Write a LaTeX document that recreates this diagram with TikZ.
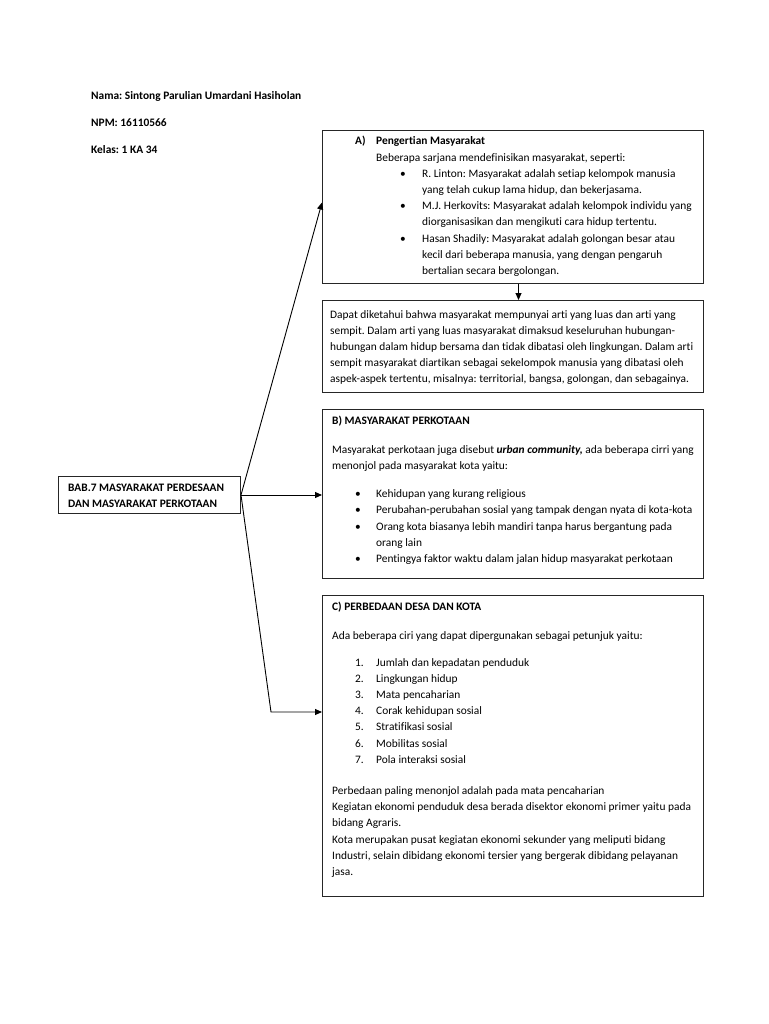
\documentclass[tikz,border=0pt]{standalone}
\usepackage{fontspec}
\setmainfont{Carlito}[Ligatures=NoCommon]
\frenchspacing
\usetikzlibrary{arrows.meta}
\begin{document}
\begin{tikzpicture}[x=1pt,y=-1pt,
  box/.style={draw=black!85, line width=1pt, anchor=north west, inner sep=0pt},
  txt/.style={anchor=base west, inner sep=0pt, font=\fontsize{11.4}{16.2}\selectfont\frenchspacing},
  arr/.style={draw=black, line width=0.9pt, -{Triangle[length=7pt,width=6pt]}}]
\useasboundingbox (0,0) rectangle (768,1024);
\fill[white] (0,0) rectangle (768,1024);
% boxes
\node[box, minimum width=381pt, minimum height=153pt] (A) at (322,130) {};
\node[box, minimum width=381pt, minimum height=92pt] (D) at (322,300) {};
\node[box, minimum width=381pt, minimum height=169pt] (B) at (322,409) {};
\node[box, minimum width=381pt, minimum height=301pt] (C) at (322,595) {};
\node[box, minimum width=182pt, minimum height=37pt] (bab) at (58,476) {};
% header
\node[txt] (hdr) at (91,100) {\begin{tabular}[t]{@{}l@{}}
\textbf{Nama: Sintong Parulian Umardani Hasiholan}\\[10.8pt]
\textbf{NPM: 16110566}\\[10.8pt]
\textbf{Kelas: 1 KA 34}
\end{tabular}};
% BAB
\node[txt] (babt) at (68,491) {\begin{tabular}[t]{@{}l@{}}
\textbf{BAB.7 MASYARAKAT PERDESAAN}\\
\textbf{DAN MASYARAKAT PERKOTAAN}
\end{tabular}};
% box A text
\node[txt] (tA) at (355,145) {\begin{tabular}[t]{@{}l@{}}
\makebox[21pt][l]{\textbf{A)}}\textbf{Pengertian Masyarakat}\\
\hspace*{21pt}Beberapa sarjana mendefinisikan masyarakat, seperti:\\
\hspace*{45pt}\makebox[22pt][l]{\textbullet}R. Linton: Masyarakat adalah setiap kelompok manusia\\
\hspace*{67pt}yang telah cukup lama hidup, dan bekerjasama.\\
\hspace*{45pt}\makebox[22pt][l]{\textbullet}M.J. Herkovits: Masyarakat adalah kelompok individu yang\\
\hspace*{67pt}diorganisasikan dan mengikuti cara hidup tertentu.\\
\hspace*{45pt}\makebox[22pt][l]{\textbullet}Hasan Shadily: Masyarakat adalah golongan besar atau\\
\hspace*{67pt}kecil dari beberapa manusia, yang dengan pengaruh\\
\hspace*{67pt}bertalian secara bergolongan.
\end{tabular}};
% box D text
\node[txt] (tD) at (330,318) {\begin{tabular}[t]{@{}l@{}}
Dapat diketahui bahwa masyarakat mempunyai arti yang luas dan arti yang\\
sempit. Dalam arti yang luas masyarakat dimaksud keseluruhan hubungan-\\
hubungan dalam hidup bersama dan tidak dibatasi oleh lingkungan. Dalam arti\\
sempit masyarakat diartikan sebagai sekelompok manusia yang dibatasi oleh\\
aspek-aspek tertentu, misalnya: territorial, bangsa, golongan, dan sebagainya.
\end{tabular}};
% box B text
\node[txt] (tB) at (332,424) {\begin{tabular}[t]{@{}l@{}}
\textbf{B) MASYARAKAT PERKOTAAN}\\[13.5pt]
Masyarakat perkotaan juga disebut \textbf{\textit{urban community,}} ada beberapa cirri yang\\
menonjol pada masyarakat kota yaitu:\\[11.5pt]
\hspace*{23pt}\makebox[21pt][l]{\textbullet}Kehidupan yang kurang religious\\
\hspace*{23pt}\makebox[21pt][l]{\textbullet}Perubahan-perubahan sosial yang tampak dengan nyata di kota-kota\\
\hspace*{23pt}\makebox[21pt][l]{\textbullet}Orang kota biasanya lebih mandiri tanpa harus bergantung pada\\
\hspace*{44pt}orang lain\\
\hspace*{23pt}\makebox[21pt][l]{\textbullet}Pentingya faktor waktu dalam jalan hidup masyarakat perkotaan
\end{tabular}};
% box C text
\node[txt] (tC) at (332,610) {\begin{tabular}[t]{@{}l@{}}
\textbf{C) PERBEDAAN DESA DAN KOTA}\\[12.8pt]
Ada beberapa ciri yang dapat dipergunakan sebagai petunjuk yaitu:\\[10.8pt]
\hspace*{23pt}\makebox[21pt][l]{1.}Jumlah dan kepadatan penduduk\\
\hspace*{23pt}\makebox[21pt][l]{2.}Lingkungan hidup\\
\hspace*{23pt}\makebox[21pt][l]{3.}Mata pencaharian\\
\hspace*{23pt}\makebox[21pt][l]{4.}Corak kehidupan sosial\\
\hspace*{23pt}\makebox[21pt][l]{5.}Stratifikasi sosial\\
\hspace*{23pt}\makebox[21pt][l]{6.}Mobilitas sosial\\
\hspace*{23pt}\makebox[21pt][l]{7.}Pola interaksi sosial\\[15pt]
Perbedaan paling menonjol adalah pada mata pencaharian\\
Kegiatan ekonomi penduduk desa berada disektor ekonomi primer yaitu pada\\
bidang Agraris.\\
Kota merupakan pusat kegiatan ekonomi sekunder yang meliputi bidang\\
Industri, selain dibidang ekonomi tersier yang bergerak dibidang pelayanan\\
jasa.
\end{tabular}};
% connectors
\coordinate (cbend) at (271,712);
\draw[arr] (bab.east) -- ([yshift=4.5pt]A.west);
\draw[arr] (bab.east) -- (bab.east -| B.west);
\draw[arr] (bab.east) -- (cbend) -- (cbend -| C.west);
\draw[arr] ([xshift=5.5pt]A.south) -- ([xshift=5.5pt]D.north);
\end{tikzpicture}
\end{document}
